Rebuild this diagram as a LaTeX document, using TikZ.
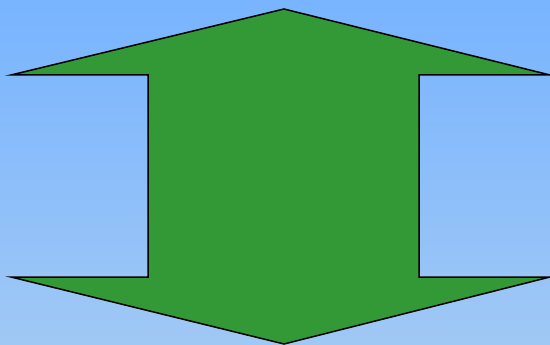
\documentclass[tikz,border=0pt]{standalone}
\begin{document}
\begin{tikzpicture}[x=1pt,y=-1pt,
  arrowshape/.style={fill={rgb,255:red,51;green,153;blue,54}, draw=black, line width=1.5pt, line join=miter}]
\definecolor{bgtop}{RGB}{120,180,255}
\definecolor{bgbot}{RGB}{160,200,245}
\useasboundingbox (0,0) rectangle (550,345);
\shade[top color=bgtop, bottom color=bgbot] (0,0) rectangle (550,345);
\coordinate (t) at (284,9);
\coordinate (b) at (284,344);
\draw[arrowshape] (t) -- (550,75) -- (419,75) -- (419,277) -- (550,277) -- (b) -- (11,277) -- (148,277) -- (148,75) -- (11,75) -- cycle;
\end{tikzpicture}
\end{document}
